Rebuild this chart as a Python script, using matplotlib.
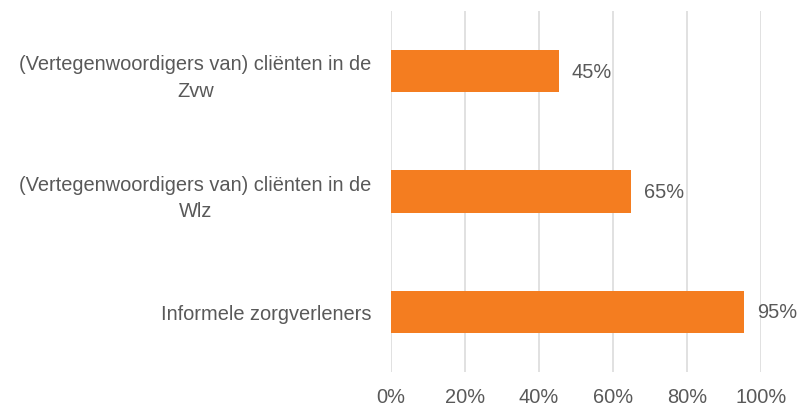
import matplotlib
matplotlib.use("Agg")
import matplotlib.pyplot as plt
from matplotlib.ticker import FuncFormatter

categories = ["Informele zorgverleners",
              "(Vertegenwoordigers van) cliënten in de\nWlz",
              "(Vertegenwoordigers van) cliënten in de\nZvw"]
values = [95.5, 64.9, 45.4]
labels = ["95%", "65%", "45%"]
xticks = [0, 20, 40, 60, 80, 100]

plt.rcParams['font.family'] = ['Liberation Sans', 'DejaVu Sans']
text_color = "#595959"
bar_color = "#F47D20"
fs = 14.4

fig = plt.figure(figsize=(8, 4.06), dpi=100)
ax = fig.add_axes([391/800, 1-373/406, (760.7-391)/800, (373-12)/406])

y = list(range(len(categories)))
bars = ax.barh(y, values, height=0.35, color=bar_color, zorder=3)
for yi, v, lab in zip(y, values, labels):
    ax.text(v + 3.5, yi, lab, va='center', ha='left', fontsize=fs, color=text_color)

ax.set_xlim(0, 100)
ax.set_ylim(-0.5, 2.5)
ax.set_xticks(xticks)
ax.xaxis.set_major_formatter(FuncFormatter(lambda v, p: f"{int(v)}%"))
ax.set_yticks(y)
ax.set_yticklabels(categories, multialignment='center', linespacing=1.5)
ax.tick_params(axis='both', length=0, labelsize=fs, labelcolor=text_color)
ax.tick_params(axis='y', pad=14)
ax.tick_params(axis='x', pad=10.5)
ax.grid(axis='x', color='#D9D9D9', linewidth=1.1, zorder=0)
for s in ax.spines.values():
    s.set_visible(False)

fig.savefig("out.png", dpi=100)
